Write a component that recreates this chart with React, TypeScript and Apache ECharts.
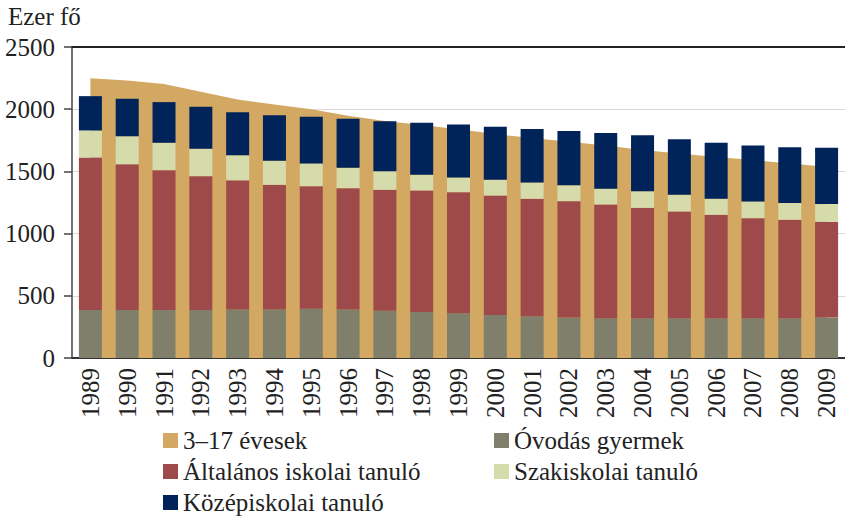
import React, { useEffect, useRef } from "react";
import * as echarts from "echarts";

const years = ["1989","1990","1991","1992","1993","1994","1995","1996","1997","1998","1999","2000","2001","2002","2003","2004","2005","2006","2007","2008","2009"];
const age3to17 = [2248,2230,2203,2140,2078,2038,2000,1948,1905,1873,1838,1800,1768,1738,1708,1673,1643,1615,1591,1563,1538];
const ovodas = [385,385,385,385,390,390,395,390,380,370,360,345,335,325,320,320,320,320,320,320,325];
const altalanos = [1227,1173,1125,1077,1038,1002,986,975,972,977,973,961,945,936,914,887,858,831,804,791,770];
const szakiskolai = [217,225,220,220,202,193,183,164,150,126,118,127,131,128,126,134,134,129,134,134,142];
const kozepiskolai = [276,301,327,338,346,367,375,394,402,418,426,426,429,435,448,450,447,450,450,450,453];
const yTicks = { min: 0, max: 2500, interval: 500 };

const FONT = "Liberation Serif";
const FS = 25;
const C_AGE = "#D2A862";
const C_OVO = "#7F7F6C";
const C_ALT = "#9E4A4A";
const C_SZAK = "#D6DBAB";
const C_KOZ = "#00235A";

export default function App() {
  const ref = useRef<HTMLDivElement>(null);
  useEffect(() => {
    document.body.style.margin = "0";
    const chart = echarts.init(ref.current!, null, { renderer: "svg" });
    const legendText = { fontFamily: FONT, fontSize: FS, color: "#222", lineHeight: 25 };
    const legendBase = {
      top: 428, orient: "vertical", icon: "rect", itemWidth: 15, itemHeight: 15,
      itemGap: 6, padding: 0, height: 100, textStyle: legendText, selectedMode: false,
    };
    chart.setOption({
      animation: false,
      textStyle: { fontFamily: FONT },
      grid: { left: 72, right: -7, top: 47, bottom: 159, containLabel: false },
      graphic: [
        { type: "text", left: 8, top: 4, style: { text: "Ezer fő", fontFamily: FONT, fontSize: FS, fill: "#222" } },
      ],
      legend: [
        { ...legendBase, left: 163, data: ["3–17 évesek", "Általános iskolai tanuló", "Középiskolai tanuló"] },
        { ...legendBase, left: 494, data: ["Óvodás gyermek", "Szakiskolai tanuló"] },
      ],
      xAxis: [
        {
          type: "category", data: years, position: "bottom",
          axisLine: { lineStyle: { color: "#333", width: 2 } },
          axisTick: { show: false },
          axisLabel: { rotate: 90, margin: 10, fontFamily: FONT, fontSize: FS, color: "#222" },
        },
        {
          type: "category", data: years, position: "top",
          axisLine: { show: true, lineStyle: { color: "#222", width: 2 } },
          axisTick: { show: false }, axisLabel: { show: false },
        },
      ],
      yAxis: {
        type: "value", ...yTicks,
        axisLine: { show: true, lineStyle: { color: "#444", width: 1.5 } },
        axisTick: { show: true, inside: false, length: 8, lineStyle: { color: "#444", width: 1.5 } },
        splitLine: { lineStyle: { color: "#d9d9d9", width: 1 } },
        axisLabel: { margin: 17, fontFamily: FONT, fontSize: FS, color: "#222", formatter: (v: number) => String(v) },
      },
      series: [
        {
          name: "3–17 évesek", type: "line", data: age3to17, symbol: "none", z: 1,
          lineStyle: { width: 0 }, itemStyle: { color: C_AGE },
          areaStyle: { color: C_AGE, opacity: 1 },
        },
        { name: "Óvodás gyermek", type: "bar", stack: "t", barWidth: 23, data: ovodas, itemStyle: { color: C_OVO }, z: 3 },
        { name: "Általános iskolai tanuló", type: "bar", stack: "t", barWidth: 23, data: altalanos, itemStyle: { color: C_ALT }, z: 3 },
        { name: "Szakiskolai tanuló", type: "bar", stack: "t", barWidth: 23, data: szakiskolai, itemStyle: { color: C_SZAK }, z: 3 },
        { name: "Középiskolai tanuló", type: "bar", stack: "t", barWidth: 23, data: kozepiskolai, itemStyle: { color: C_KOZ }, z: 3 },
      ],
    });
    return () => chart.dispose();
  }, []);
  return <div ref={ref} style={{ width: 845, height: 517 }} />;
}
